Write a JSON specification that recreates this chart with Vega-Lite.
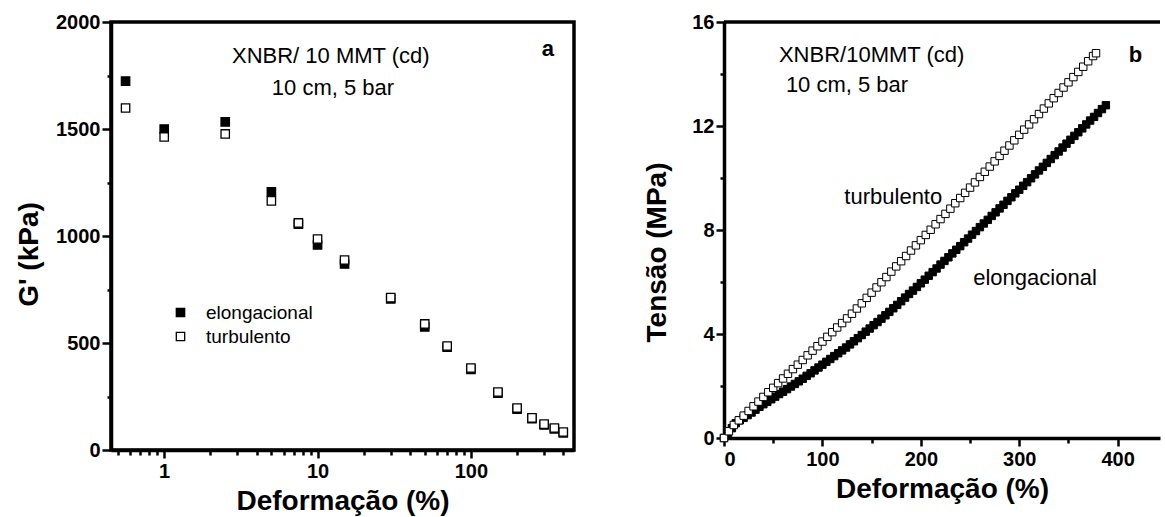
{
  "$schema": "https://vega.github.io/schema/vega-lite/v6.json",
  "background": "white",
  "padding": {"left": 13, "top": 10, "right": 0, "bottom": 0},
  "spacing": 67,
  "config": {
    "font": "Liberation Sans",
    "axis": {"labelFont": "Liberation Sans", "labelFontSize": 20, "labelFontWeight": "bold", "labelColor": "black", "titleFont": "Liberation Sans", "titleFontSize": 28, "titleFontWeight": "bold", "titleColor": "black", "domainColor": "black", "domainWidth": 3.5, "tickColor": "black", "tickWidth": 2.5, "grid": false, "labelPadding": 3},
    "legend": {"labelFont": "Liberation Sans", "labelFontSize": 19, "labelColor": "black"}
  },
  "datasets": {
    "gmod": [
      {"d": 0.56, "g": 1724, "s": "elongacional"},
      {"d": 1, "g": 1500, "s": "elongacional"},
      {"d": 2.5, "g": 1533, "s": "elongacional"},
      {"d": 5, "g": 1206, "s": "elongacional"},
      {"d": 7.5, "g": 1055, "s": "elongacional"},
      {"d": 10, "g": 958, "s": "elongacional"},
      {"d": 15, "g": 869, "s": "elongacional"},
      {"d": 30, "g": 706, "s": "elongacional"},
      {"d": 50, "g": 575, "s": "elongacional"},
      {"d": 70, "g": 480, "s": "elongacional"},
      {"d": 100, "g": 377, "s": "elongacional"},
      {"d": 150, "g": 266, "s": "elongacional"},
      {"d": 200, "g": 191, "s": "elongacional"},
      {"d": 250, "g": 146, "s": "elongacional"},
      {"d": 300, "g": 117, "s": "elongacional"},
      {"d": 350, "g": 99, "s": "elongacional"},
      {"d": 400, "g": 80, "s": "elongacional"},
      {"d": 0.56, "g": 1598, "s": "turbulento"},
      {"d": 1, "g": 1463, "s": "turbulento"},
      {"d": 2.5, "g": 1477, "s": "turbulento"},
      {"d": 5, "g": 1164, "s": "turbulento"},
      {"d": 7.5, "g": 1061, "s": "turbulento"},
      {"d": 10, "g": 986, "s": "turbulento"},
      {"d": 15, "g": 888, "s": "turbulento"},
      {"d": 30, "g": 712, "s": "turbulento"},
      {"d": 50, "g": 589, "s": "turbulento"},
      {"d": 70, "g": 486, "s": "turbulento"},
      {"d": 100, "g": 383, "s": "turbulento"},
      {"d": 150, "g": 271, "s": "turbulento"},
      {"d": 200, "g": 196, "s": "turbulento"},
      {"d": 250, "g": 150, "s": "turbulento"},
      {"d": 300, "g": 121, "s": "turbulento"},
      {"d": 350, "g": 103, "s": "turbulento"},
      {"d": 400, "g": 84, "s": "turbulento"}
    ],
    "notesA": [
      {"d": 12.2, "g": 1841, "txt": "XNBR/ 10 MMT (cd)"},
      {"d": 12.6, "g": 1692, "txt": "10 cm, 5 bar"}
    ],
    "tagA": [{"d": 318, "g": 1874, "txt": "a"}],
    "tens": [
      {"e": 0, "st": 0.0, "s": "elongacional"},
      {"e": 4, "st": 0.19, "s": "elongacional"},
      {"e": 8, "st": 0.38, "s": "elongacional"},
      {"e": 12, "st": 0.57, "s": "elongacional"},
      {"e": 16, "st": 0.68, "s": "elongacional"},
      {"e": 20, "st": 0.78, "s": "elongacional"},
      {"e": 24, "st": 0.88, "s": "elongacional"},
      {"e": 28, "st": 0.98, "s": "elongacional"},
      {"e": 32, "st": 1.09, "s": "elongacional"},
      {"e": 36, "st": 1.2, "s": "elongacional"},
      {"e": 40, "st": 1.3, "s": "elongacional"},
      {"e": 44, "st": 1.39, "s": "elongacional"},
      {"e": 48, "st": 1.49, "s": "elongacional"},
      {"e": 52, "st": 1.59, "s": "elongacional"},
      {"e": 56, "st": 1.69, "s": "elongacional"},
      {"e": 60, "st": 1.78, "s": "elongacional"},
      {"e": 64, "st": 1.88, "s": "elongacional"},
      {"e": 68, "st": 1.98, "s": "elongacional"},
      {"e": 72, "st": 2.08, "s": "elongacional"},
      {"e": 76, "st": 2.18, "s": "elongacional"},
      {"e": 80, "st": 2.28, "s": "elongacional"},
      {"e": 84, "st": 2.39, "s": "elongacional"},
      {"e": 88, "st": 2.49, "s": "elongacional"},
      {"e": 92, "st": 2.6, "s": "elongacional"},
      {"e": 96, "st": 2.71, "s": "elongacional"},
      {"e": 100, "st": 2.82, "s": "elongacional"},
      {"e": 104, "st": 2.93, "s": "elongacional"},
      {"e": 108, "st": 3.04, "s": "elongacional"},
      {"e": 112, "st": 3.15, "s": "elongacional"},
      {"e": 116, "st": 3.26, "s": "elongacional"},
      {"e": 120, "st": 3.37, "s": "elongacional"},
      {"e": 124, "st": 3.48, "s": "elongacional"},
      {"e": 128, "st": 3.6, "s": "elongacional"},
      {"e": 132, "st": 3.72, "s": "elongacional"},
      {"e": 136, "st": 3.84, "s": "elongacional"},
      {"e": 140, "st": 3.96, "s": "elongacional"},
      {"e": 144, "st": 4.09, "s": "elongacional"},
      {"e": 148, "st": 4.21, "s": "elongacional"},
      {"e": 152, "st": 4.34, "s": "elongacional"},
      {"e": 156, "st": 4.46, "s": "elongacional"},
      {"e": 160, "st": 4.59, "s": "elongacional"},
      {"e": 164, "st": 4.72, "s": "elongacional"},
      {"e": 168, "st": 4.85, "s": "elongacional"},
      {"e": 172, "st": 4.99, "s": "elongacional"},
      {"e": 176, "st": 5.12, "s": "elongacional"},
      {"e": 180, "st": 5.26, "s": "elongacional"},
      {"e": 184, "st": 5.4, "s": "elongacional"},
      {"e": 188, "st": 5.54, "s": "elongacional"},
      {"e": 192, "st": 5.67, "s": "elongacional"},
      {"e": 196, "st": 5.81, "s": "elongacional"},
      {"e": 200, "st": 5.95, "s": "elongacional"},
      {"e": 204, "st": 6.09, "s": "elongacional"},
      {"e": 208, "st": 6.24, "s": "elongacional"},
      {"e": 212, "st": 6.38, "s": "elongacional"},
      {"e": 216, "st": 6.52, "s": "elongacional"},
      {"e": 220, "st": 6.67, "s": "elongacional"},
      {"e": 224, "st": 6.81, "s": "elongacional"},
      {"e": 228, "st": 6.95, "s": "elongacional"},
      {"e": 232, "st": 7.1, "s": "elongacional"},
      {"e": 236, "st": 7.24, "s": "elongacional"},
      {"e": 240, "st": 7.38, "s": "elongacional"},
      {"e": 244, "st": 7.53, "s": "elongacional"},
      {"e": 248, "st": 7.67, "s": "elongacional"},
      {"e": 252, "st": 7.82, "s": "elongacional"},
      {"e": 256, "st": 7.96, "s": "elongacional"},
      {"e": 260, "st": 8.11, "s": "elongacional"},
      {"e": 264, "st": 8.25, "s": "elongacional"},
      {"e": 268, "st": 8.39, "s": "elongacional"},
      {"e": 272, "st": 8.54, "s": "elongacional"},
      {"e": 276, "st": 8.68, "s": "elongacional"},
      {"e": 280, "st": 8.83, "s": "elongacional"},
      {"e": 284, "st": 8.97, "s": "elongacional"},
      {"e": 288, "st": 9.12, "s": "elongacional"},
      {"e": 292, "st": 9.26, "s": "elongacional"},
      {"e": 296, "st": 9.41, "s": "elongacional"},
      {"e": 300, "st": 9.55, "s": "elongacional"},
      {"e": 304, "st": 9.7, "s": "elongacional"},
      {"e": 308, "st": 9.84, "s": "elongacional"},
      {"e": 312, "st": 9.99, "s": "elongacional"},
      {"e": 316, "st": 10.14, "s": "elongacional"},
      {"e": 320, "st": 10.29, "s": "elongacional"},
      {"e": 324, "st": 10.43, "s": "elongacional"},
      {"e": 328, "st": 10.58, "s": "elongacional"},
      {"e": 332, "st": 10.73, "s": "elongacional"},
      {"e": 336, "st": 10.88, "s": "elongacional"},
      {"e": 340, "st": 11.02, "s": "elongacional"},
      {"e": 344, "st": 11.17, "s": "elongacional"},
      {"e": 348, "st": 11.32, "s": "elongacional"},
      {"e": 352, "st": 11.47, "s": "elongacional"},
      {"e": 356, "st": 11.62, "s": "elongacional"},
      {"e": 360, "st": 11.76, "s": "elongacional"},
      {"e": 364, "st": 11.91, "s": "elongacional"},
      {"e": 368, "st": 12.06, "s": "elongacional"},
      {"e": 372, "st": 12.21, "s": "elongacional"},
      {"e": 376, "st": 12.35, "s": "elongacional"},
      {"e": 380, "st": 12.5, "s": "elongacional"},
      {"e": 384, "st": 12.65, "s": "elongacional"},
      {"e": 388, "st": 12.8, "s": "elongacional"},
      {"e": 0, "st": 0.0, "s": "turbulento"},
      {"e": 5, "st": 0.26, "s": "turbulento"},
      {"e": 10, "st": 0.5, "s": "turbulento"},
      {"e": 15, "st": 0.68, "s": "turbulento"},
      {"e": 20, "st": 0.86, "s": "turbulento"},
      {"e": 25, "st": 1.04, "s": "turbulento"},
      {"e": 30, "st": 1.22, "s": "turbulento"},
      {"e": 35, "st": 1.4, "s": "turbulento"},
      {"e": 40, "st": 1.58, "s": "turbulento"},
      {"e": 45, "st": 1.76, "s": "turbulento"},
      {"e": 50, "st": 1.93, "s": "turbulento"},
      {"e": 55, "st": 2.11, "s": "turbulento"},
      {"e": 60, "st": 2.29, "s": "turbulento"},
      {"e": 65, "st": 2.47, "s": "turbulento"},
      {"e": 70, "st": 2.65, "s": "turbulento"},
      {"e": 75, "st": 2.82, "s": "turbulento"},
      {"e": 80, "st": 3.0, "s": "turbulento"},
      {"e": 85, "st": 3.18, "s": "turbulento"},
      {"e": 90, "st": 3.36, "s": "turbulento"},
      {"e": 95, "st": 3.53, "s": "turbulento"},
      {"e": 100, "st": 3.71, "s": "turbulento"},
      {"e": 105, "st": 3.89, "s": "turbulento"},
      {"e": 110, "st": 4.07, "s": "turbulento"},
      {"e": 115, "st": 4.25, "s": "turbulento"},
      {"e": 120, "st": 4.42, "s": "turbulento"},
      {"e": 125, "st": 4.6, "s": "turbulento"},
      {"e": 130, "st": 4.78, "s": "turbulento"},
      {"e": 135, "st": 4.98, "s": "turbulento"},
      {"e": 140, "st": 5.18, "s": "turbulento"},
      {"e": 145, "st": 5.39, "s": "turbulento"},
      {"e": 150, "st": 5.59, "s": "turbulento"},
      {"e": 155, "st": 5.79, "s": "turbulento"},
      {"e": 160, "st": 5.99, "s": "turbulento"},
      {"e": 165, "st": 6.19, "s": "turbulento"},
      {"e": 170, "st": 6.4, "s": "turbulento"},
      {"e": 175, "st": 6.6, "s": "turbulento"},
      {"e": 180, "st": 6.8, "s": "turbulento"},
      {"e": 185, "st": 7.0, "s": "turbulento"},
      {"e": 190, "st": 7.21, "s": "turbulento"},
      {"e": 195, "st": 7.41, "s": "turbulento"},
      {"e": 200, "st": 7.61, "s": "turbulento"},
      {"e": 205, "st": 7.81, "s": "turbulento"},
      {"e": 210, "st": 8.01, "s": "turbulento"},
      {"e": 215, "st": 8.22, "s": "turbulento"},
      {"e": 220, "st": 8.42, "s": "turbulento"},
      {"e": 225, "st": 8.62, "s": "turbulento"},
      {"e": 230, "st": 8.82, "s": "turbulento"},
      {"e": 235, "st": 9.03, "s": "turbulento"},
      {"e": 240, "st": 9.23, "s": "turbulento"},
      {"e": 245, "st": 9.43, "s": "turbulento"},
      {"e": 250, "st": 9.63, "s": "turbulento"},
      {"e": 255, "st": 9.83, "s": "turbulento"},
      {"e": 260, "st": 10.04, "s": "turbulento"},
      {"e": 265, "st": 10.24, "s": "turbulento"},
      {"e": 270, "st": 10.44, "s": "turbulento"},
      {"e": 275, "st": 10.64, "s": "turbulento"},
      {"e": 280, "st": 10.85, "s": "turbulento"},
      {"e": 285, "st": 11.05, "s": "turbulento"},
      {"e": 290, "st": 11.25, "s": "turbulento"},
      {"e": 295, "st": 11.45, "s": "turbulento"},
      {"e": 300, "st": 11.66, "s": "turbulento"},
      {"e": 305, "st": 11.86, "s": "turbulento"},
      {"e": 310, "st": 12.06, "s": "turbulento"},
      {"e": 315, "st": 12.26, "s": "turbulento"},
      {"e": 320, "st": 12.46, "s": "turbulento"},
      {"e": 325, "st": 12.67, "s": "turbulento"},
      {"e": 330, "st": 12.87, "s": "turbulento"},
      {"e": 335, "st": 13.07, "s": "turbulento"},
      {"e": 340, "st": 13.27, "s": "turbulento"},
      {"e": 345, "st": 13.48, "s": "turbulento"},
      {"e": 350, "st": 13.68, "s": "turbulento"},
      {"e": 355, "st": 13.88, "s": "turbulento"},
      {"e": 360, "st": 14.08, "s": "turbulento"},
      {"e": 365, "st": 14.28, "s": "turbulento"},
      {"e": 370, "st": 14.49, "s": "turbulento"},
      {"e": 375, "st": 14.69, "s": "turbulento"},
      {"e": 378, "st": 14.8, "s": "turbulento"}
    ],
    "notesB": [
      {"e": 150, "st": 14.73, "txt": "XNBR/10MMT (cd)"},
      {"e": 125, "st": 13.58, "txt": "10 cm, 5 bar"},
      {"e": 172, "st": 9.27, "txt": "turbulento"},
      {"e": 316, "st": 6.15, "txt": "elongacional"}
    ],
    "tagB": [{"e": 418, "st": 14.73, "txt": "b"}]
  },
  "hconcat": [
    {
      "width": 463,
      "height": 428,
      "view": {"stroke": "black", "strokeWidth": 3.5},
      "layer": [
        {
          "data": {"name": "gmod"},
          "mark": {"type": "square", "size": 70, "stroke": "black", "strokeWidth": 1.3, "opacity": 1},
          "encoding": {
            "x": {"field": "d", "type": "quantitative",
              "scale": {"type": "log", "domain": [0.45, 470], "nice": false},
              "axis": {"title": "Deformação (%)", "values": [0.5, 0.6, 0.7, 0.8, 0.9, 1, 2, 3, 4, 5, 6, 7, 8, 9, 10, 20, 30, 40, 50, 60, 70, 80, 90, 100, 200, 300, 400],
                "labelExpr": "(datum.value == 1 || datum.value == 10 || datum.value == 100) ? '' + datum.value : ''",
                "tickSize": {"condition": {"test": "datum.value == 1 || datum.value == 10 || datum.value == 100", "value": 8}, "value": 5},
                "labelPadding": 3, "titlePadding": 6}},
            "y": {"field": "g", "type": "quantitative",
              "scale": {"domain": [0, 2000], "nice": false},
              "axis": {"title": "G' (kPa)", "format": "d", "values": [0, 250, 500, 750, 1000, 1250, 1500, 1750, 2000],
                "labelExpr": "datum.value % 500 == 0 ? '' + datum.value : ''",
                "tickSize": {"condition": {"test": "datum.value % 500 == 0", "value": 9}, "value": 4},
                "labelPadding": 2, "titlePadding": 12, "titleY": 232}},
            "fill": {"field": "s", "type": "nominal",
              "scale": {"domain": ["elongacional", "turbulento"], "range": ["black", "white"]},
              "legend": {"orient": "none", "legendX": 60, "legendY": 281, "title": null, "symbolType": "square", "symbolStrokeColor": "black", "symbolStrokeWidth": 1.3, "symbolSize": 70, "labelFontSize": 19, "labelOffset": 16, "rowPadding": 4, "padding": 0}}
          }
        },
        {
          "data": {"name": "notesA"},
          "mark": {"type": "text", "font": "Liberation Sans", "fontSize": 22, "color": "black", "align": "center", "baseline": "middle"},
          "encoding": {
            "x": {"field": "d", "type": "quantitative"},
            "y": {"field": "g", "type": "quantitative"},
            "text": {"field": "txt"}
          }
        },
        {
          "data": {"name": "tagA"},
          "mark": {"type": "text", "font": "Liberation Sans", "fontSize": 22, "fontWeight": "bold", "color": "black", "align": "center", "baseline": "middle"},
          "encoding": {
            "x": {"field": "d", "type": "quantitative"},
            "y": {"field": "g", "type": "quantitative"},
            "text": {"field": "txt"}
          }
        }
      ]
    },
    {
      "width": 436,
      "height": 416,
      "view": {"stroke": null},
      "layer": [
        {
          "data": {"name": "tens"},
          "mark": {"type": "square", "size": 55, "stroke": "black", "strokeWidth": 1, "opacity": 1},
          "encoding": {
            "x": {"field": "e", "type": "quantitative",
              "scale": {"domain": [0, 443], "nice": false},
              "axis": {"title": "Deformação (%)", "values": [0, 50, 100, 150, 200, 250, 300, 350, 400],
                "labelExpr": "datum.value % 100 == 0 ? datum.label : ''",
                "tickSize": {"condition": {"test": "datum.value % 100 == 0", "value": 8}, "value": 5},
                "labelPadding": 3, "titlePadding": 6}},
            "y": {"field": "st", "type": "quantitative",
              "scale": {"domain": [0, 16], "nice": false},
              "axis": {"title": "Tensão (MPa)", "values": [0, 2, 4, 6, 8, 10, 12, 14, 16],
                "labelExpr": "datum.value % 4 == 0 ? datum.label : ''",
                "tickSize": {"condition": {"test": "datum.value % 4 == 0", "value": 8}, "value": 4},
                "labelPadding": 2, "titlePadding": 20, "titleY": 230}},
            "fill": {"field": "s", "type": "nominal",
              "scale": {"domain": ["elongacional", "turbulento"], "range": ["black", "white"]},
              "legend": null}
          }
        },
        {
          "data": {"values": [{}]},
          "mark": {"type": "rule", "stroke": "black", "strokeWidth": 3.5},
          "encoding": {"y": {"datum": 16}}
        },
        {
          "data": {"name": "notesB"},
          "mark": {"type": "text", "font": "Liberation Sans", "fontSize": 22, "color": "black", "align": "center", "baseline": "middle"},
          "encoding": {
            "x": {"field": "e", "type": "quantitative"},
            "y": {"field": "st", "type": "quantitative"},
            "text": {"field": "txt"}
          }
        },
        {
          "data": {"name": "tagB"},
          "mark": {"type": "text", "font": "Liberation Sans", "fontSize": 22, "fontWeight": "bold", "color": "black", "align": "center", "baseline": "middle"},
          "encoding": {
            "x": {"field": "e", "type": "quantitative"},
            "y": {"field": "st", "type": "quantitative"},
            "text": {"field": "txt"}
          }
        }
      ]
    }
  ],
  "resolve": {"scale": {"x": "independent", "y": "independent", "fill": "independent"}, "legend": {"fill": "independent"}}
}
